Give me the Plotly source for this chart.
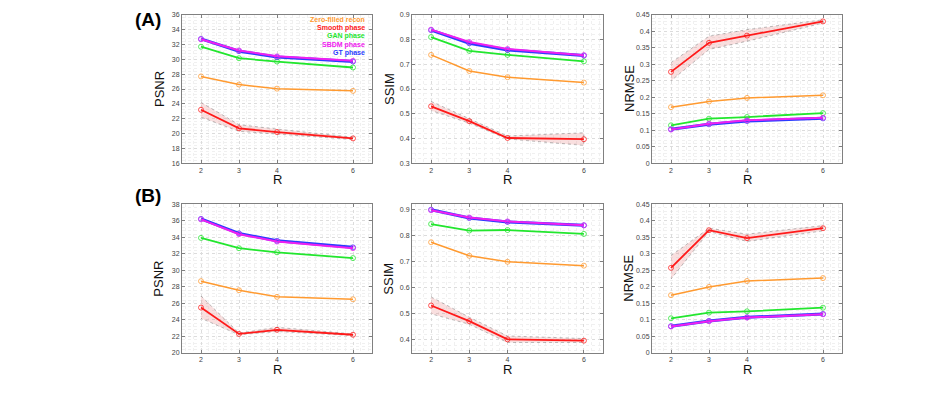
import plotly.graph_objects as go

R = [2, 3, 4, 6]
series_names = ["Zero-filled recon", "Smooth phase", "GAN phase", "SBDM phase", "GT phase"]
colors = ["#FF9A30", "#FF1A1A", "#22E62E", "#F020F0", "#2A3CFF"]

# Row A
A_psnr = {
    "Zero-filled recon": [27.7, 26.6, 26.05, 25.75],
    "Smooth phase": [23.2, 20.7, 20.2, 19.35],
    "GAN phase": [31.7, 30.15, 29.7, 28.9],
    "SBDM phase": [32.7, 31.2, 30.4, 29.8],
    "GT phase": [32.75, 31.1, 30.3, 29.7],
}
A_psnr_lo = [22.2, 20.3, 19.9, 19.2]
A_psnr_hi = [24.2, 21.2, 20.6, 19.5]

A_ssim = {
    "Zero-filled recon": [0.738, 0.673, 0.648, 0.626],
    "Smooth phase": [0.530, 0.470, 0.402, 0.397],
    "GAN phase": [0.810, 0.754, 0.738, 0.712],
    "SBDM phase": [0.840, 0.790, 0.762, 0.737],
    "GT phase": [0.838, 0.785, 0.758, 0.735],
}
A_ssim_lo = [0.513, 0.462, 0.398, 0.372]
A_ssim_hi = [0.550, 0.480, 0.410, 0.423]

A_nrmse = {
    "Zero-filled recon": [0.170, 0.187, 0.198, 0.206],
    "Smooth phase": [0.277, 0.365, 0.387, 0.430],
    "GAN phase": [0.115, 0.135, 0.140, 0.152],
    "SBDM phase": [0.102, 0.120, 0.130, 0.138],
    "GT phase": [0.103, 0.118, 0.128, 0.136],
}
A_nrmse_lo = [0.250, 0.345, 0.370, 0.425]
A_nrmse_hi = [0.305, 0.385, 0.405, 0.435]

# Row B
B_psnr = {
    "Zero-filled recon": [28.7, 27.6, 26.8, 26.5],
    "Smooth phase": [25.5, 22.3, 22.8, 22.2],
    "GAN phase": [33.95, 32.7, 32.2, 31.5],
    "SBDM phase": [36.2, 34.4, 33.5, 32.7],
    "GT phase": [36.25, 34.5, 33.6, 32.8],
}
B_psnr_lo = [24.2, 22.2, 22.6, 22.1]
B_psnr_hi = [26.9, 22.4, 23.1, 22.3]

B_ssim = {
    "Zero-filled recon": [0.775, 0.723, 0.700, 0.685],
    "Smooth phase": [0.532, 0.472, 0.402, 0.397],
    "GAN phase": [0.845, 0.820, 0.822, 0.807],
    "SBDM phase": [0.898, 0.870, 0.855, 0.840],
    "GT phase": [0.900, 0.868, 0.853, 0.840],
}
B_ssim_lo = [0.500, 0.460, 0.390, 0.390]
B_ssim_hi = [0.565, 0.487, 0.415, 0.405]

B_nrmse = {
    "Zero-filled recon": [0.175, 0.200, 0.218, 0.227],
    "Smooth phase": [0.258, 0.372, 0.348, 0.378],
    "GAN phase": [0.105, 0.122, 0.126, 0.137],
    "SBDM phase": [0.080, 0.096, 0.107, 0.117],
    "GT phase": [0.081, 0.097, 0.108, 0.118],
}
B_nrmse_lo = [0.224, 0.368, 0.338, 0.370]
B_nrmse_hi = [0.295, 0.378, 0.360, 0.386]

W, H = 947, 407
cols_px = [(182, 372), (412, 603), (652, 842)]
rows_px = [(11, 162), (204, 355)]

panels = [
    (0, 0, A_psnr, A_psnr_lo, A_psnr_hi, [16, 36], 2, 0.4, "PSNR"),
    (0, 1, A_ssim, A_ssim_lo, A_ssim_hi, [0.3, 0.9], 0.1, 0.02, "SSIM"),
    (0, 2, A_nrmse, A_nrmse_lo, A_nrmse_hi, [0, 0.45], 0.05, 0.01, "NRMSE"),
    (1, 0, B_psnr, B_psnr_lo, B_psnr_hi, [20, 38], 2, 0.4, "PSNR"),
    (1, 1, B_ssim, B_ssim_lo, B_ssim_hi, [0.35, 0.92], 0.1, 0.02, "SSIM"),
    (1, 2, B_nrmse, B_nrmse_lo, B_nrmse_hi, [0, 0.45], 0.05, 0.01, "NRMSE"),
]

fig = go.Figure()
annotations = []
layout_axes = {}
tickfont = dict(family="Liberation Sans, Arial", size=7, color="#444444")

for i, (r, c, data, lo, hi, yr, dt, mdt, ylab) in enumerate(panels):
    n = i + 1
    xa = "x" if n == 1 else f"x{n}"
    ya = "y" if n == 1 else f"y{n}"
    x0, x1 = cols_px[c]
    t0, t1 = rows_px[r]
    common = dict(
        showline=True, linecolor="#808080", linewidth=1, mirror="ticks",
        ticks="inside", ticklen=3, tickcolor="#808080", tickfont=tickfont,
        showgrid=True, gridcolor="#dcdcdc", griddash="dot", gridwidth=1,
        zeroline=False,
    )
    layout_axes[("xaxis" if n == 1 else f"xaxis{n}")] = dict(
        domain=[x0 / W, x1 / W], range=[1.5, 6.5], anchor=ya,
        tickvals=R, ticktext=[str(v) for v in R],
        minor=dict(dtick=0.2, tick0=0, showgrid=True, gridcolor="#f0f0f0", griddash="dot", ticks=""),
        **common,
    )
    layout_axes[("yaxis" if n == 1 else f"yaxis{n}")] = dict(
        domain=[1 - t1 / H, 1 - t0 / H], range=yr, anchor=xa,
        dtick=dt, tick0=0,
        minor=dict(dtick=mdt, tick0=0, showgrid=True, gridcolor="#f0f0f0", griddash="dot", ticks=""),
        **common,
    )
    # band for smooth phase
    fig.add_trace(go.Scatter(x=R + R[::-1], y=hi + lo[::-1], fill="toself",
                             fillcolor="rgba(235,140,140,0.28)",
                             line=dict(color="rgba(120,120,120,0.7)", width=0.7, dash="dot"),
                             mode="lines", hoverinfo="skip", showlegend=False,
                             xaxis=xa, yaxis=ya))
    order = ["Zero-filled recon", "GAN phase", "GT phase", "SBDM phase", "Smooth phase"]
    widths = {"Zero-filled recon": 1.5, "GAN phase": 1.8, "GT phase": 3.0,
              "SBDM phase": 2.0, "Smooth phase": 1.8}
    for name in order:
        col = colors[series_names.index(name)]
        fig.add_trace(go.Scatter(x=R, y=data[name], mode="lines+markers", name=name,
                                 line=dict(color=col, width=widths[name]),
                                 marker=dict(symbol="circle-open", size=5, color=col,
                                             opacity=0.75,
                                             line=dict(width=1, color=col)),
                                 showlegend=False, xaxis=xa, yaxis=ya))
    # axis labels
    annotations.append(dict(text=ylab, x=(x0 - 23) / W, y=1 - ((t0 + t1) / 2) / H,
                            xref="paper", yref="paper", textangle=-90, showarrow=False,
                            xanchor="center", yanchor="middle",
                            font=dict(family="Liberation Sans, Arial", size=13, color="#111111")))
    annotations.append(dict(text="R", x=((x0 + x1) / 2) / W, y=1 - (t1 + 17) / H,
                            xref="paper", yref="paper", showarrow=False,
                            xanchor="center", yanchor="middle",
                            font=dict(family="Liberation Sans, Arial", size=13, color="#111111")))

annotations.append(dict(text="<b>(A)</b>", x=148 / W, y=1 - 16 / H, xref="paper", yref="paper",
                        showarrow=False, xanchor="center", yanchor="middle",
                        font=dict(family="Liberation Sans, Arial", size=19, color="#000000")))
annotations.append(dict(text="<b>(B)</b>", x=148 / W, y=1 - 195 / H, xref="paper", yref="paper",
                        showarrow=False, xanchor="center", yanchor="middle",
                        font=dict(family="Liberation Sans, Arial", size=19, color="#000000")))

# legend text (colored labels)
leg_y = [16, 24.5, 33, 41.5, 50]
for name, col, yy in zip(series_names, colors, leg_y):
    annotations.append(dict(text=f"<b>{name}</b>", x=367 / W, y=1 - yy / H, xref="paper", yref="paper",
                            showarrow=False, xanchor="right", yanchor="middle",
                            font=dict(family="Liberation Sans, Arial", size=7, color=col)))

fig.update_layout(width=W, height=H, margin=dict(l=0, r=0, t=0, b=0),
                  paper_bgcolor="white", plot_bgcolor="white",
                  annotations=annotations, showlegend=False, **layout_axes)

fig.write_html("out.html")
